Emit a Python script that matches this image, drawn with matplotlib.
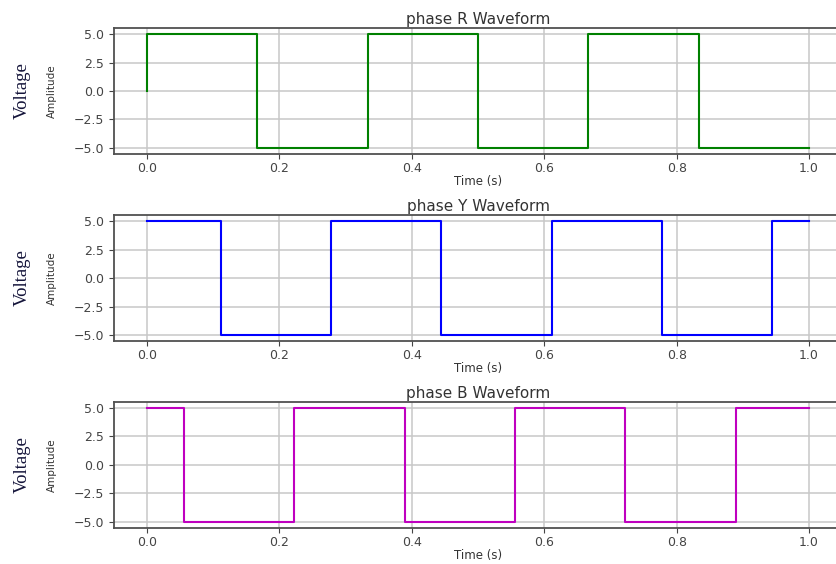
import matplotlib
matplotlib.use("Agg")
import matplotlib.pyplot as plt

# switching instants (s) and the level held after each one (V)
r_times = [0.0, 0.0, 0.1667, 0.3333, 0.5, 0.6667, 0.8333, 1.0]
r_levels = [0.0, 5.0, -5.0, 5.0, -5.0, 5.0, -5.0, -5.0]

y_times = [0.0, 0.1111, 0.2778, 0.4444, 0.6111, 0.7778, 0.9444, 1.0]
y_levels = [5.0, -5.0, 5.0, -5.0, 5.0, -5.0, 5.0, 5.0]

b_times = [0.0, 0.0556, 0.2222, 0.3889, 0.5556, 0.7222, 0.8889, 1.0]
b_levels = [5.0, -5.0, 5.0, -5.0, 5.0, -5.0, 5.0, 5.0]

phases = [
    ("phase R Waveform", r_times, r_levels, "g"),
    ("phase Y Waveform", y_times, y_levels, "b"),
    ("phase B Waveform", b_times, b_levels, "m"),
]

fig = plt.figure(figsize=(8.37, 5.64), dpi=100)

bottoms = [0.7275, 0.3959, 0.0644]
for (title, t, v, color), bottom in zip(phases, bottoms):
    ax = fig.add_axes([0.1362, bottom, 0.870, 0.2223])
    ax.step(t, v, where="post", color=color, linewidth=1.5)
    ax.set_title(title, fontsize=11, color="#333333", pad=3)
    ax.set_xlabel("Time (s)", fontsize=8.5, color="#333333", labelpad=0)
    ax.set_ylabel("Amplitude", fontsize=7.5, color="#333333")
    ax.yaxis.set_label_coords(-0.078, 0.5)
    ax.set_yticks([-5.0, -2.5, 0.0, 2.5, 5.0])
    ax.set_xticks([0.0, 0.2, 0.4, 0.6, 0.8, 1.0])
    ax.tick_params(labelsize=9, colors="#444444")
    ax.tick_params(axis="x", pad=2.5)
    ax.grid(True, color="#c8c8c8", linewidth=1.1)
    for spine in ax.spines.values():
        spine.set_color("#505050")
        spine.set_linewidth(1.3)
    ax.text(-0.126, 0.5, "Voltage", transform=ax.transAxes, rotation=90,
            ha="center", va="center", fontsize=13.5,
            family="Liberation Serif", color="#14143a")

fig.savefig("out.png", dpi=100)
